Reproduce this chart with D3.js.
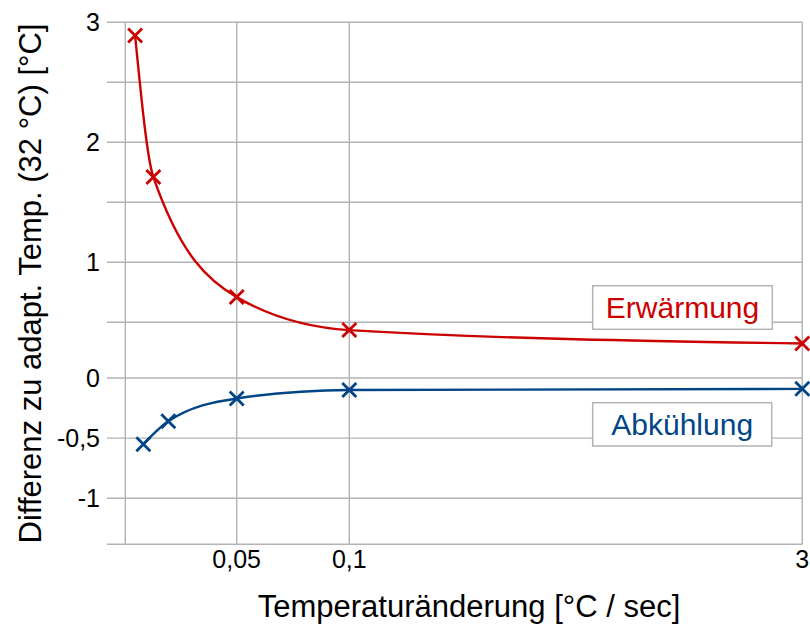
<!DOCTYPE html>
<html>
<head>
<meta charset="utf-8">
<script src="https://cdn.jsdelivr.net/npm/d3@7"></script>
<style>
  html, body { margin: 0; padding: 0; background: #fff; }
  svg { display: block; }
  text { font-family: "Liberation Sans", Arial, sans-serif; }
</style>
</head>
<body>
<svg id="chart" width="810" height="624"></svg>
<script>
// ---- data ----
const seriesNames = ["Erwärmung", "Abkühlung"];
const xErwaermung = [0.0044, 0.0126, 0.05, 0.1, 3];
const yErwaermung = [2.89, 1.71, 0.71, 0.43, 0.31];
const xAbkuehlung = [0.0081, 0.0193, 0.05, 0.1, 3];
const yAbkuehlung = [-0.55, -0.36, -0.17, -0.10, -0.09];
const xGridValues = [0, 0.05, 0.1, 3];
const xTickValues = [0.05, 0.1, 3];
const yGridValues = [-1, -0.5, 0, 0.5, 1, 1.5, 2, 2.5, 3];
const yTickValues = [-1, -0.5, 0, 1, 2, 3];
const xTitle = "Temperaturänderung [°C / sec]";
const yTitle = "Differenz zu adapt. Temp. (32 °C) [°C]";

// ---- layout ----
const colors = ["#cc0000", "#004586"];
const gridColor = "#b3b3b3";
const plotLeft = 107, plotRight = 802.3, plotTop = 22.3, plotBottom = 544.3;

const svg = d3.select("#chart");

// broken (piecewise) axes as in the original picture
const x = d3.scaleLinear()
  .domain([0, 0.05, 0.1, 3])
  .range([125.3, 236.7, 349.3, plotRight]);
const y = d3.scaleLinear()
  .domain([-1.38, -1, 0, 0.5, 3])
  .range([plotBottom, 498.3, 378, 322.3, plotTop]);

const fmt = v => String(v).replace(".", ",");

// horizontal gridlines
const gH = svg.append("g");
gH.selectAll("line").data(yGridValues.concat([-1.38])).join("line")
  .attr("x1", plotLeft).attr("x2", plotRight)
  .attr("y1", d => y(d)).attr("y2", d => y(d))
  .attr("stroke", gridColor).attr("stroke-width", 1.4);

// vertical gridlines
const gV = svg.append("g");
gV.selectAll("line").data(xGridValues).join("line")
  .attr("x1", d => x(d)).attr("x2", d => x(d))
  .attr("y1", plotTop).attr("y2", plotBottom)
  .attr("stroke", gridColor).attr("stroke-width", 1.4);

// y tick labels
svg.append("g").selectAll("text").data(yTickValues).join("text")
  .attr("x", 100).attr("y", d => y(d) + 9)
  .attr("text-anchor", "end")
  .attr("font-size", 25).attr("fill", "#000")
  .text(d => fmt(d));

// x tick labels
svg.append("g").selectAll("text").data(xTickValues).join("text")
  .attr("x", d => x(d)).attr("y", 568)
  .attr("text-anchor", "middle")
  .attr("font-size", 25).attr("fill", "#000")
  .text(d => fmt(d));

// axis titles
svg.append("text")
  .attr("x", 469).attr("y", 617)
  .attr("text-anchor", "middle")
  .attr("font-size", 31).attr("fill", "#000")
  .text(xTitle);
svg.append("text")
  .attr("transform", "translate(41,283.5) rotate(-90)")
  .attr("text-anchor", "middle")
  .attr("font-size", 31).attr("fill", "#000")
  .text(yTitle);

// series
const series = [
  { name: seriesNames[0], xs: xErwaermung, ys: yErwaermung, color: colors[0] },
  { name: seriesNames[1], xs: xAbkuehlung, ys: yAbkuehlung, color: colors[1] }
];
const line = d3.line()
  .x(d => x(d[0])).y(d => y(d[1]))
  .curve(d3.curveMonotoneX);

series.forEach(s => {
  const pts = s.xs.map((v, i) => [v, s.ys[i]]);
  svg.append("path")
    .datum(pts)
    .attr("d", line)
    .attr("fill", "none")
    .attr("stroke", s.color)
    .attr("stroke-width", 2.4);
  const r = 7;
  svg.append("g").selectAll("path").data(pts).join("path")
    .attr("d", d => {
      const cx = x(d[0]), cy = y(d[1]);
      return `M${cx - r},${cy - r}L${cx + r},${cy + r}M${cx - r},${cy + r}L${cx + r},${cy - r}`;
    })
    .attr("stroke", s.color)
    .attr("stroke-width", 2.8)
    .attr("fill", "none");
});

// labels in boxes
const boxes = [
  { text: seriesNames[0], color: colors[0], x0: 592.7, y0: 285.7, w: 179.6, h: 43.6 },
  { text: seriesNames[1], color: colors[1], x0: 592.7, y0: 402.7, w: 179.0, h: 43.3 }
];
boxes.forEach(b => {
  svg.append("rect")
    .attr("x", b.x0).attr("y", b.y0).attr("width", b.w).attr("height", b.h)
    .attr("fill", "#fff").attr("stroke", gridColor).attr("stroke-width", 1.5);
  svg.append("text")
    .attr("x", b.x0 + b.w / 2).attr("y", b.y0 + 32)
    .attr("text-anchor", "middle")
    .attr("font-size", 30).attr("fill", b.color)
    .text(b.text);
});
</script>
</body>
</html>
